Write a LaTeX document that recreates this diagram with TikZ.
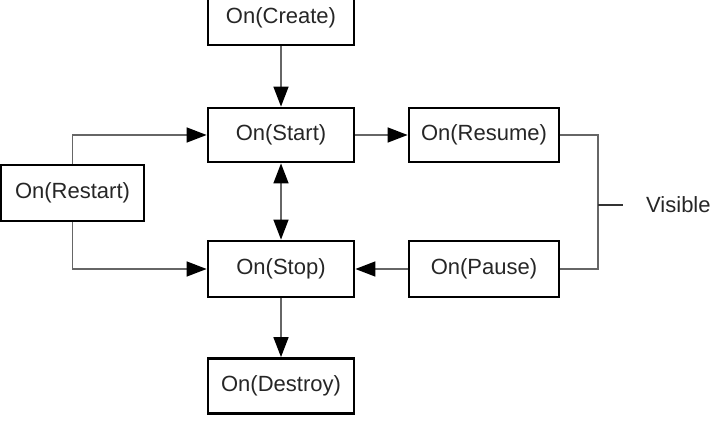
\documentclass[tikz,border=0pt]{standalone}
\usepackage{fontspec}
\setmainfont{Liberation Sans}
\usetikzlibrary{arrows.meta}
\begin{document}
\begin{tikzpicture}[x=1pt,y=-1pt,
  box/.style={draw=black, line width=2.8pt, minimum width=146pt, minimum height=54pt, inner sep=0pt,
    font=\fontsize{22}{26}\selectfont, text=black!85},
  conn/.style={draw=black!60, line width=1.5pt},
  tip/.tip={Triangle[length=20pt,width=15pt,black]},
  arr/.style={conn, -tip}]
\useasboundingbox (0,0) rectangle (720,430);
\node[box] (create) at (281,18) {On(Create)};
\node[box] (start) at (281,135) {On(Start)};
\node[box, minimum width=150pt] (resume) at (484,135) {On(Resume)};
\node[box, minimum width=143pt, minimum height=56pt] (restart) at (72.5,193) {On(Restart)};
\node[box, minimum height=56pt] (stop) at (281,269) {On(Stop)};
\node[box, minimum width=150pt, minimum height=56pt] (pause) at (484,269) {On(Pause)};
\node[box, minimum height=55pt] (destroy) at (281,386) {On(Destroy)};
\node[font=\fontsize{22}{26}\selectfont, text=black!85, anchor=west, inner sep=0pt] (vis) at (646,205) {Visible};
\coordinate (vj) at (598,205);
\coordinate (vt) at (623,205);
\draw[arr] (create) -- (start);
\draw[conn, tip-tip] (start) -- (stop);
\draw[arr] (start) -- (resume);
\draw[arr] (pause) -- (stop);
\draw[arr] (stop) -- (destroy);
\draw[arr] (restart.north) |- (start.west);
\draw[arr] (restart.south) |- (stop.west);
\draw[conn] (resume.east) -| (vj) |- (pause.east);
\draw[draw=black!80, line width=1.5pt] (vj) -- (vt);
\end{tikzpicture}
\end{document}
